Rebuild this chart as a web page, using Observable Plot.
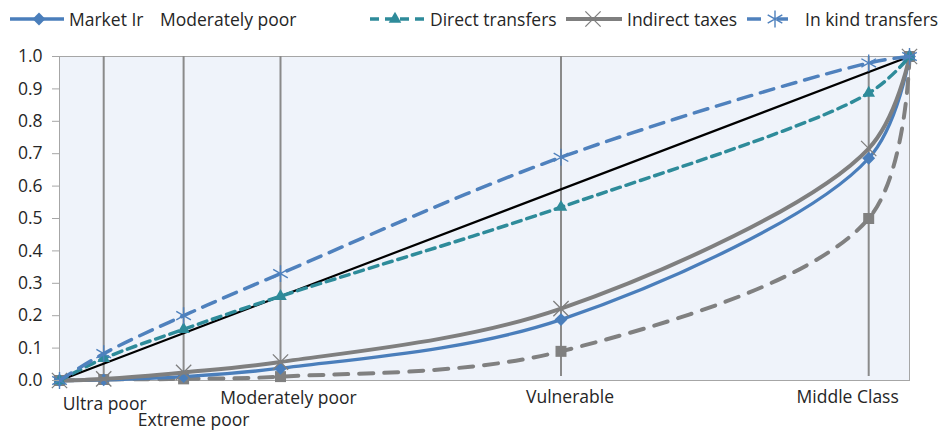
<!DOCTYPE html>
<html><head><meta charset="utf-8">
<script src="https://cdn.jsdelivr.net/npm/d3@7"></script>
<script src="https://cdn.jsdelivr.net/npm/@observablehq/plot@0.6"></script>
<style>
body{margin:0;background:#fff;font-family:"Open Sans",sans-serif;}
#wrap{position:relative;width:943px;height:430px;overflow:hidden;}
#legend{position:absolute;left:0;top:0;width:943px;height:38px;}
.li{position:absolute;top:0;height:38px;display:flex;align-items:center;font-size:17.5px;color:#262626;white-space:nowrap;}
#chart{position:absolute;left:0;top:36px;}
</style></head><body>
<div id="wrap"><div id="legend"></div><div id="chart"></div></div>
<script>
// ---- data ----
const categories = ["Ultra poor", "Extreme poor", "Moderately poor", "Vulnerable", "Middle Class"];
const popShare = [0, 0.052, 0.146, 0.26, 0.59, 0.952, 1];
const marketIncome    = [0, 0.002, 0.012, 0.038, 0.188, 0.686, 1];
const hiddenSeries    = [0, 0.003, 0.005, 0.012, 0.090, 0.500, 1];
const directTransfers = [0, 0.068, 0.158, 0.260, 0.535, 0.887, 1];
const indirectTaxes   = [0, 0.005, 0.025, 0.057, 0.222, 0.716, 1];
const inKindTransfers = [0, 0.083, 0.200, 0.330, 0.689, 0.980, 1];
const equalityX = [0, 1];
const equalityY = [0, 1];
const yTicks = [0, 0.1, 0.2, 0.3, 0.4, 0.5, 0.6, 0.7, 0.8, 0.9, 1.0];
const legendLabels = ["Market Ir", "Moderately poor", "Direct transfers", "Indirect taxes", "In kind transfers"];

// ---- styles ----
const series = [
  {values: hiddenSeries, color: "#808080", width: 4, dash: "14,11", symbol: "square", r: 6.2, fill: true, sw: 0},
  {values: marketIncome, color: "#4a7ebb", width: 3.3, dash: null, symbol: "diamond2", r: 5.8, fill: true, sw: 0},
  {values: indirectTaxes, color: "#7f7f7f", width: 4, dash: null, symbol: "times", r: 7, fill: false, sw: 1.3},
  {values: directTransfers, color: "#2e8b9a", width: 3.5, dash: "9,6", symbol: "triangle2", r: 6, fill: true, sw: 0},
  {values: inKindTransfers, color: "#4f81bd", width: 3.5, dash: "14,9", symbol: "asterisk", r: 8, fill: false, sw: 1.4}
];

const rows = s => s.values.map((v, i) => ({x: popShare[i], y: v}));
const marks = [
  Plot.frame({fill: "#eff3fa", stroke: "#a6a6a6"}),
  Plot.ruleX(popShare.slice(1, 6), {stroke: "#8a8a8a", strokeWidth: 2, y1: 0, y2: 1, insetTop: -4})
];
marks.push(Plot.line(equalityX.map((x, i) => ({x, y: equalityY[i]})), {x: "x", y: "y", stroke: "#000", strokeWidth: 2.2}));
for (const s of series) {
  marks.push(Plot.line(rows(s), {x: "x", y: "y", stroke: s.color, strokeWidth: s.width, strokeDasharray: s.dash, curve: "catmull-rom"}));
  marks.push(Plot.dot(rows(s), {x: "x", y: "y", symbol: () => s.symbol, r: s.r,
    fill: s.fill ? s.color : "none", stroke: s.fill ? "none" : s.color, strokeWidth: s.sw}));
}
// category labels (layout offsets per label)
const labelOffsets = [[1, 24], [10, 40], [8, 18], [9, 17], [-21, 17]];
categories.forEach((c, i) => {
  marks.push(Plot.text([c], {x: () => popShare[i + 1], y: () => 0, text: d => d, dx: labelOffsets[i][0], dy: labelOffsets[i][1], fill: "#262626", fontSize: 17.5}));
});
marks.push(Plot.axisY({ticks: yTicks, tickFormat: d => d.toFixed(1), label: null, tickSize: 7, tickPadding: 10, stroke: "#a6a6a6", fill: "#262626", fontSize: 17.5}));

const chart = Plot.plot({
  width: 943, height: 394,
  marginTop: 20, marginBottom: 50, marginLeft: 59, marginRight: 34,
  style: {fontFamily: "Open Sans, sans-serif", fontSize: "17.5px", background: "transparent", overflow: "visible"},
  x: {domain: [0, 1], axis: null},
  y: {domain: [0, 1], axis: null},
  marks
});
document.getElementById("chart").appendChild(chart);

// ---- legend ----
const legend = document.getElementById("legend");
const symMap = {diamond2: d3.symbolDiamond2, triangle2: d3.symbolTriangle2, times: d3.symbolTimes, asterisk: d3.symbolAsterisk, square: d3.symbolSquare};
function swatch(s, w, symX, segs) {
  const svg = d3.create("svg").attr("width", w).attr("height", 20).style("margin-right", "5px");
  for (const [a, b] of segs) {
    svg.append("line").attr("x1", a).attr("x2", b).attr("y1", 10).attr("y2", 10)
      .attr("stroke", s.color).attr("stroke-width", s.width).attr("stroke-dasharray", s.dash);
  }
  svg.append("path").attr("d", d3.symbol(symMap[s.symbol], Math.PI * s.r * s.r)()).attr("transform", `translate(${symX},10)`)
    .attr("fill", s.fill ? s.color : "none").attr("stroke", s.fill ? "none" : s.color).attr("stroke-width", s.sw);
  return svg.node();
}
const legendItems = [
  {s: series[1], text: legendLabels[0], left: 10, w: 54, symX: 29, segs: [[0, 54]]},
  {s: series[3], text: legendLabels[2], left: 370, w: 55, symX: 25, segs: [[0, 55]]},
  {s: series[2], text: legendLabels[3], left: 566, w: 56, symX: 27, segs: [[0, 56]]},
  {s: series[4], text: legendLabels[4], left: 747, w: 53, symX: 28, segs: [[0, 14], [30, 41]]}
];
for (const it of legendItems) {
  const d = document.createElement("div");
  d.className = "li"; d.style.left = it.left + "px";
  d.appendChild(swatch(it.s, it.w, it.symX, it.segs));
  const t = document.createElement("span");
  t.textContent = it.text;
  d.appendChild(t);
  legend.appendChild(d);
}
const stray = document.createElement("div");
stray.className = "li"; stray.style.left = "160px";
stray.textContent = legendLabels[1];
legend.appendChild(stray);
</script>
</body></html>
